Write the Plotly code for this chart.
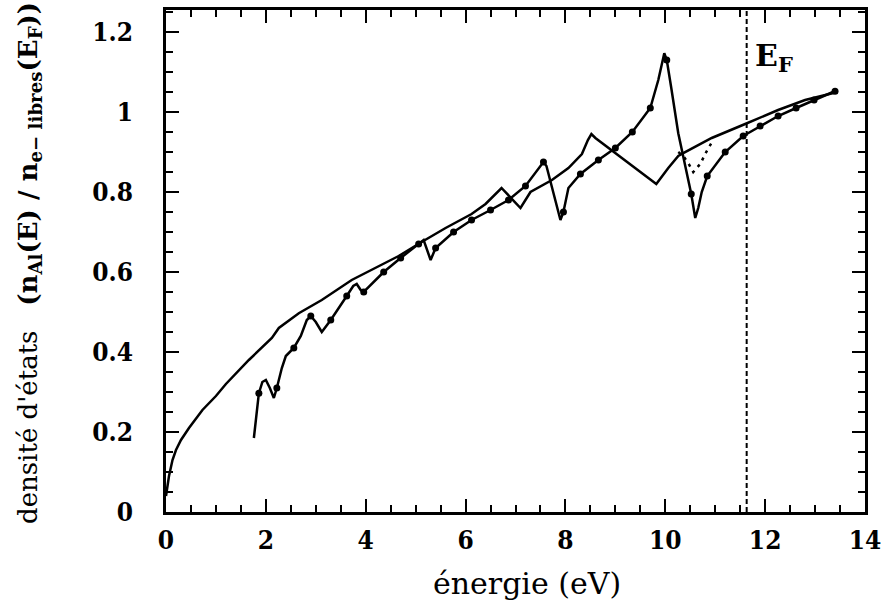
import plotly.graph_objects as go

# Smooth (nearly free electron) curve, no markers
nfe_E = [0, 0.06, 0.13, 0.2, 0.3, 0.46, 0.73, 1.0, 1.2, 1.66, 2.12, 2.26, 2.66, 3.12,
         3.72, 4.2, 4.66, 5.12, 5.6, 6.12, 6.4, 6.72, 7.1, 7.3, 7.73, 8.06, 8.33, 8.45,
         8.52, 8.6, 9.82, 10.06, 10.26, 10.36, 10.93, 11.6, 12.26, 12.8, 13.45]
nfe_n = [0.04, 0.09, 0.13, 0.155, 0.18, 0.21, 0.255, 0.29, 0.32, 0.38, 0.435, 0.46, 0.497, 0.53,
         0.58, 0.61, 0.64, 0.675, 0.71, 0.745, 0.77, 0.81, 0.76, 0.80, 0.83, 0.86, 0.895, 0.93,
         0.945, 0.935, 0.82, 0.86, 0.89, 0.897, 0.935, 0.97, 1.005, 1.03, 1.05]

# Al density of states curve (line)
al_E = [1.76, 1.86, 1.93, 2.0, 2.08, 2.16, 2.22, 2.32, 2.4, 2.56, 2.7, 2.82, 2.9, 3.0, 3.12,
        3.3, 3.62, 3.75, 3.82, 3.9, 3.96, 4.36, 4.7, 5.06, 5.16, 5.3, 5.4, 5.76, 6.12, 6.5,
        6.86, 7.2, 7.45, 7.56, 7.62, 7.9, 7.96, 8.06, 8.3, 8.66, 9.0, 9.34, 9.7, 9.86, 9.98,
        10.03, 10.12, 10.26, 10.52, 10.6, 10.66, 10.73, 10.84, 11.2, 11.56, 11.9, 12.26,
        12.62, 12.98, 13.36, 13.45]
al_n = [0.185, 0.297, 0.325, 0.33, 0.31, 0.285, 0.31, 0.36, 0.39, 0.41, 0.44, 0.48, 0.49, 0.475, 0.45,
        0.48, 0.54, 0.565, 0.57, 0.555, 0.55, 0.60, 0.635, 0.67, 0.68, 0.63, 0.66, 0.70, 0.73, 0.755,
        0.78, 0.815, 0.855, 0.875, 0.865, 0.73, 0.75, 0.81, 0.845, 0.88, 0.91, 0.95, 1.01, 1.08, 1.147,
        1.13, 1.06, 0.947, 0.795, 0.735, 0.76, 0.80, 0.84, 0.90, 0.94, 0.965, 0.99,
        1.01, 1.03, 1.05, 1.055]

# Computed points (dots) on the Al curve
dot_E = [1.86, 2.22, 2.56, 2.9, 3.3, 3.62, 3.96, 4.36, 4.7, 5.06, 5.4, 5.76, 6.12, 6.5, 6.86,
         7.2, 7.56, 7.96, 8.3, 8.66, 9.0, 9.34, 9.7, 10.03, 10.52, 10.84, 11.2, 11.56, 11.9,
         12.26, 12.62, 12.98, 13.4]
dot_n = [0.297, 0.31, 0.41, 0.49, 0.48, 0.54, 0.55, 0.60, 0.635, 0.67, 0.66, 0.70, 0.73, 0.755, 0.78,
         0.815, 0.875, 0.75, 0.845, 0.88, 0.91, 0.95, 1.01, 1.13, 0.795, 0.84, 0.90, 0.94, 0.965,
         0.99, 1.01, 1.03, 1.052]

# Dotted intermediate curve near the gap
dotted_E = [10.26, 10.36, 10.47, 10.56, 10.7, 10.82, 10.96]
dotted_n = [0.90, 0.89, 0.87, 0.85, 0.87, 0.90, 0.93]

E_F = 11.63

x_ticks = [0, 2, 4, 6, 8, 10, 12, 14]
y_ticks = [0, 0.2, 0.4, 0.6, 0.8, 1.0, 1.2]
y_ticktext = ["0", "0.2", "0.4", "0.6", "0.8", "1", "1.2"]

fig = go.Figure()
fig.add_trace(go.Scatter(x=nfe_E, y=nfe_n, mode="lines",
                         line=dict(color="black", width=2.5), showlegend=False))
fig.add_trace(go.Scatter(x=al_E, y=al_n, mode="lines",
                         line=dict(color="black", width=2.5), showlegend=False))
fig.add_trace(go.Scatter(x=dot_E, y=dot_n, mode="markers",
                         marker=dict(color="black", size=7), showlegend=False))
fig.add_trace(go.Scatter(x=dotted_E, y=dotted_n, mode="lines",
                         line=dict(color="black", width=2.5, dash="3px,5px"), showlegend=False))
fig.add_trace(go.Scatter(x=[E_F, E_F], y=[0, 1.255], mode="lines",
                         line=dict(color="black", width=2, dash="5px,3px"), showlegend=False))

tickfont = dict(family="DejaVu Serif Condensed, Liberation Serif, serif", size=26,
                color="black", weight="bold")
axis_common = dict(showline=True, linewidth=2.5, linecolor="black", mirror="allticks",
                   ticks="inside", ticklen=13, tickwidth=2, tickcolor="black",
                   showgrid=False, zeroline=False, tickfont=tickfont,
                   ticklabeloverflow="allow", automargin=False)

fig.update_layout(
    width=882, height=602,
    margin=dict(l=166, r=17, t=10, b=90),
    paper_bgcolor="white", plot_bgcolor="white",
    xaxis=dict(range=[0, 14], tickvals=x_ticks, ticklabelstandoff=3,
               minor=dict(dtick=0.5, ticks="inside", ticklen=7, tickwidth=2, tickcolor="black"),
               **axis_common),
    yaxis=dict(range=[0, 1.255], tickvals=y_ticks, ticktext=y_ticktext,
               ticklabelstandoff=25,
               minor=dict(dtick=0.05, ticks="inside", ticklen=7, tickwidth=2, tickcolor="black"),
               **axis_common),
)

fig.add_annotation(xref="x", yref="paper", x=7.24, y=-0.143, showarrow=False,
                   text="énergie (eV)", xanchor="center", yanchor="middle",
                   font=dict(family="DejaVu Serif, serif", size=30, color="black"))

fig.add_annotation(xref="paper", yref="paper", x=-0.196, y=0.496, showarrow=False,
                   textangle=-90, xanchor="center", yanchor="middle",
                   text="densité d'états\u00a0\u00a0\u00a0<b>(n<sub>Al</sub>(E) / n<sub>e− libres</sub>(E<sub>F</sub>))</b>",
                   font=dict(family="DejaVu Serif, serif", size=26, color="black"))

fig.add_annotation(xref="x", yref="y", x=11.76, y=1.19, showarrow=False,
                   xanchor="left", yanchor="top",
                   text="<b>E<sub>F</sub></b>",
                   font=dict(family="DejaVu Serif, serif", size=30, color="black"))

fig.write_html("out.html")
